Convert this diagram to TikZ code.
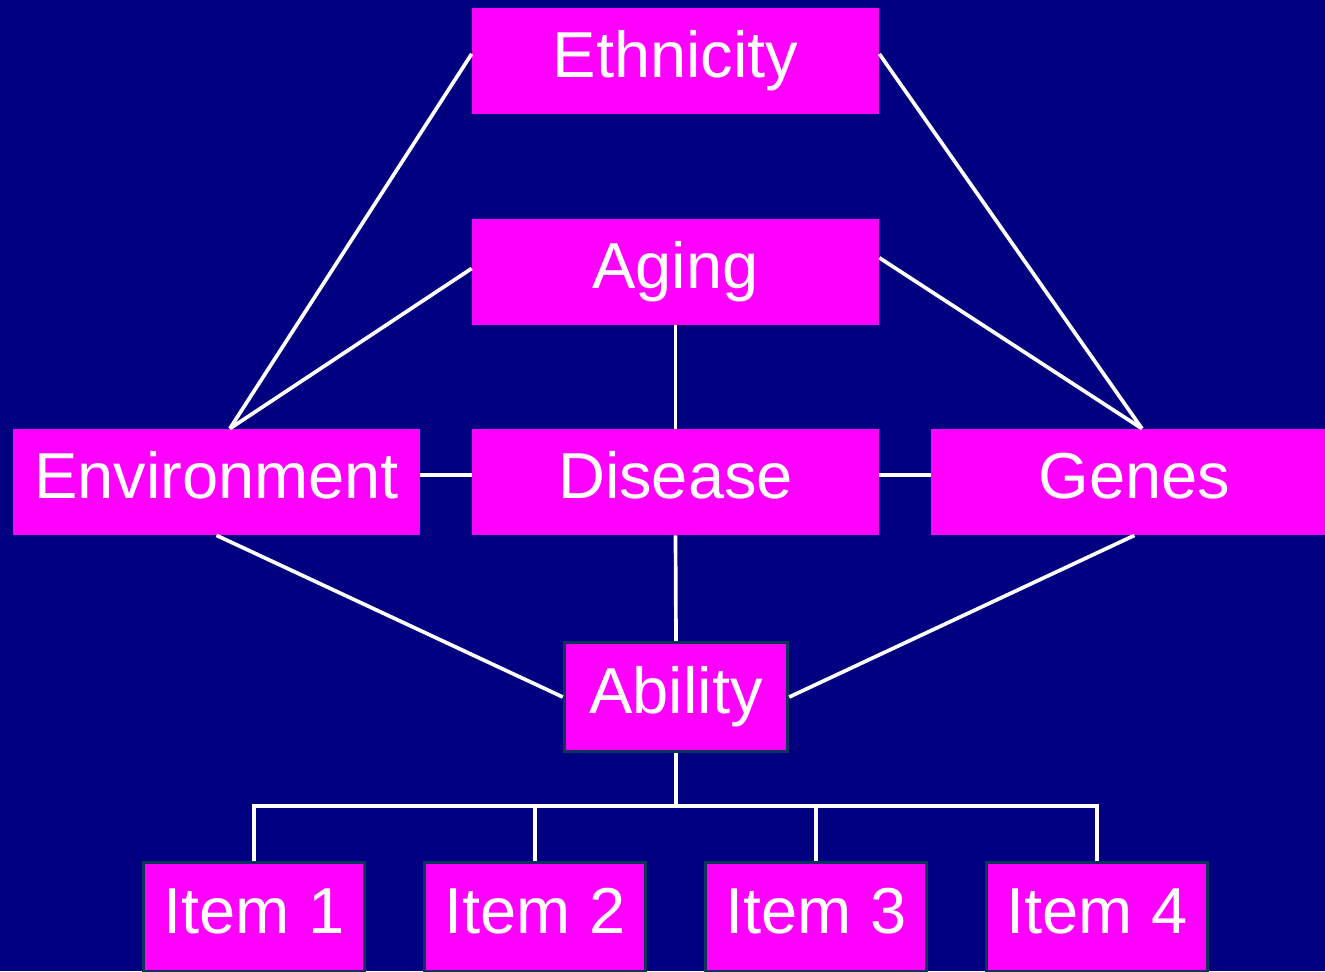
\documentclass[tikz,border=0pt]{standalone}
\usepackage{fontspec}
\setmainfont{Liberation Sans}
\usepackage{xcolor}
\definecolor{slidebg}{RGB}{0,0,128}
\definecolor{boxfill}{RGB}{255,0,255}
\definecolor{boxedge}{RGB}{10,52,92}

\begin{document}
\begin{tikzpicture}[x=0.02cm, y=-0.02cm,
    box/.style={fill=boxfill, text=white, minimum width=8.14cm, minimum height=2.12cm,
      inner sep=0pt, text height=19.3pt, text depth=0pt,
      font=\fontsize{37}{44}\selectfont},
    itembox/.style={box, draw=boxedge, line width=0.07cm, minimum width=4.42cm, minimum height=2.18cm},
    link/.style={draw=white, line width=2.1pt}]
  % slide background
  \fill[slidebg] (0,0) rectangle (1325,971);
  \useasboundingbox (0,0) rectangle (1325,971);
  \clip (0,0) rectangle (1325,971);

  % factor boxes
  \node[box] (eth) at (675.5,61) {Ethnicity};
  \node[box] (aging) at (675.5,272) {Aging};
  \node[box] (env) at (216.5,482) {Environment};
  \node[box] (dis) at (675.5,482) {Disease};
  \node[box] (genes) at (1134.5,482) {Genes};
  \node[itembox, minimum width=4.46cm] (abil) at (676,697) {Ability};

  % items
  \node[itembox] (item1) at (254,917) {Item 1};
  \node[itembox] (item2) at (535,917) {Item 2};
  \node[itembox] (item3) at (816,917) {Item 3};
  \node[itembox] (item4) at (1097,917) {Item 4};

  % connect the boxes
  \draw[link] (eth.178) -- (env.76);
  \draw[link] (eth.2) -- (genes.82);
  \draw[link] (aging.179) -- (env.76);
  \draw[link] (aging.4) -- (genes.82);
  \draw[link] (aging.south) -- (dis.north);
  \draw[link] (env.2) -- (dis.178);
  \draw[link] (dis.2) -- (genes.178);
  \draw[link] (dis.south) -- (abil.north);
  \draw[link] (env.south) -- (abil.west);
  \draw[link] (genes.south) -- (abil.east);

  % ability to items
  \draw[link] (abil.south) -- ++(0,53) coordinate (bus);
  \draw[link] (item1.north) |- (bus);
  \draw[link] (item2.north) |- (bus);
  \draw[link] (item3.north) |- (bus);
  \draw[link] (item4.north) |- (bus);
\end{tikzpicture}
\end{document}
